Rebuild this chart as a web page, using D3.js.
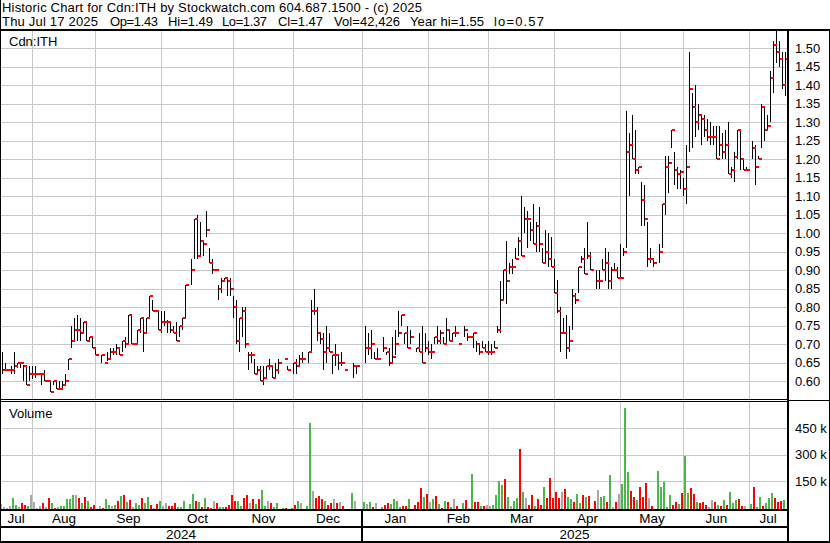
<!DOCTYPE html>
<html>
<head>
<meta charset="utf-8">
<script src="https://cdn.jsdelivr.net/npm/d3@7"></script>
<style>
  body { margin: 0; background: #fff; }
  svg text { font-family: "Liberation Sans", Arial, sans-serif; fill: #000; }
</style>
</head>
<body>
<svg id="chart" width="830" height="543"></svg>
<script>
// daily bars, one slot per weekday from Jul 17 2024 to Jul 17 2025 (null = no trade)
const high = [
  .68,.65,.63,.64,.68,.65,.65,.645,.64,.64, .64,.64,.62,.62,.63,.60,.60,.60,.60,.60,
  .60,.62,.66,.75,.77,.78,.77,.76,.76,.72, .72,.69,null,.67,.65,.68,.69,.69,.70,.69,
  .71,.72,.78,.78,.70,.74,.77,.77,.77,.83, .82,.79,.79,.79,.79,.765,.76,.75,.76,.75,
  .77,.86,null,.93,1.04,1.05,1.03,.98,1.06,.96, .93,.90,.86,.88,.88,.88,.88,.83,.82,.77,
  .80,.80,.68,.68,.66,.64,.64,.64,.64,.66, .64,.65,.66,null,.66,.64,null,.65,.66,.67,
  .68,null,.68,.82,.85,.80,.73,.73,.75,.73, .67,.70,.67,.68,.63,null,null,.65,.64,null,
  null,.75,.73,.74,.68,.69,null,.72,.68,.69, .72,.74,.79,.78,.73,.75,.74,null,.69,.73,
  .75,.73,.71,.70,.72,.75,.74,.72,.77,.74, .73,.75,.70,null,.75,.73,.72,.73,.71,.70,
  .71,.70,.71,.70,.71,.75,.87,.90,.98,.92, .93,.96,.99,1.10,1.07,1.06,1.03,1.08,1.03,1.07,
  .96,1.01,1.00,.99,.93,.874,.80,.77,.78,.75, .85,.84,.91,.94,.96,1.03,.95,null,.90,.90,
  .93,.96,.95,.91,.92,.91,.97,.96,1.33,1.27, 1.32,1.28,1.18,1.14,1.13,1.03,.96,.93,null,.97,
  1.08,1.21,1.21,1.28,1.22,1.18,1.17,1.15,1.24,1.49, 1.38,1.40,1.35,1.32,1.32,1.31,1.30,1.29,1.29,1.29,
  1.27,1.28,1.30,1.18,1.22,1.28,1.28,1.20,1.18,null, 1.25,1.24,1.21,1.35,1.34,1.32,1.44,1.52,1.55,1.52,
  1.49,1.49
];
const low = [
  .62,.63,.63,.62,.62,.635,.635,.60,.59,.60, .605,.61,.62,.59,.60,.60,.57,.59,.58,.58,
  .58,.59,.63,.69,.71,.71,.71,.73,.71,.71, .69,.67,null,.65,.65,.655,.66,.67,.67,.67,
  .68,.69,.70,.70,.70,.70,.73,.68,.73,.77, .79,.79,.74,.73,.75,.73,.73,.73,.71,.72,
  .74,.77,null,.86,.93,.93,.94,.94,.99,.92, .89,.90,.82,.84,.87,.83,.83,.77,.70,.68,
  .72,.69,.63,.65,.62,.62,.60,.59,.61,.63, .61,.61,.62,null,.66,.63,null,.62,.62,.64,
  .65,null,.65,.68,.78,.71,.70,.63,.65,.68, .62,.64,.63,.64,.63,null,null,.61,.62,null,
  null,.65,.67,.66,.66,.66,null,.68,.67,.64, .65,.67,.72,.75,.70,.69,.70,null,.68,.68,
  .65,.68,.67,.66,.70,.70,.70,.70,.70,.71, .71,.72,.70,null,.72,.71,.72,.69,.68,.67,
  .69,.68,.67,.67,.69,.73,.73,.82,.81,.89, .89,.93,.94,.94,1.00,.96,.98,.97,.95,.95,
  .92,.92,.91,.91,.84,.784,.68,.73,.66,.68, .74,.81,.84,.92,.89,.93,.90,null,.85,.85,
  .90,.87,.85,.85,.90,.88,.88,.94,.96,1.10, 1.20,1.16,1.16,1.02,1.02,.91,.92,.91,null,.92,
  .96,1.05,1.11,1.23,1.13,1.12,1.12,1.10,1.08,1.22, 1.23,1.26,1.28,1.24,1.26,1.25,1.24,1.24,1.20,1.21,
  1.20,1.20,1.16,1.15,1.14,1.20,1.17,1.17,1.17,null, 1.20,1.13,1.20,1.23,1.25,1.28,1.30,1.38,1.46,1.45,
  1.39,1.37
];
const close = [
  .63,.63,.63,.63,.64,.65,.65,.64,.59,.62, .62,.62,.62,.62,.60,.60,.57,.60,.58,.58,
  .59,.60,.66,.71,.74,.74,.73,.76,.71,.72, .69,.67,null,.67,.65,.66,.68,.68,.69,.67,
  .71,.70,.78,.70,.70,.74,.77,.73,.77,.83, .79,.79,.74,.76,.76,.76,.74,.73,.71,.75,
  .77,.86,null,.90,1.04,.94,.98,.97,1.01,.92, .90,.90,.85,.87,.88,.87,.85,.80,.71,.77,
  .79,.70,.67,.67,.62,.63,.60,.61,.64,.64, .61,.63,.65,null,.66,.63,null,.65,.64,.66,
  .66,null,.68,.79,.79,.73,.715,.68,.69,.68, .67,.67,.65,.65,.63,null,null,.64,.64,null,
  null,.69,.69,.70,.66,.66,null,.69,.68,.65, .665,.70,.73,.78,.73,.69,.72,null,.69,.68,
  .65,.69,.68,.68,.72,.71,.73,.70,.74,.71, .73,.73,.70,null,.74,.72,.72,.73,.70,.68,
  .69,.68,.68,.68,.69,.74,.82,.90,.87,.91, .91,.93,.98,.94,1.04,1.04,1.01,.97,1.02,.97,
  .92,.95,.93,.91,.84,.79,.73,.73,.69,.71, .83,.82,.91,.93,.89,.94,.90,null,.87,.87,
  .90,.92,.87,.90,.90,.88,.88,.95,1.22,1.24, 1.20,1.17,1.18,1.09,1.04,.93,.93,.92,null,.95,
  1.08,1.18,1.19,1.28,1.17,1.16,1.165,1.12,1.18,1.39, 1.34,1.30,1.32,1.31,1.28,1.26,1.26,1.26,1.20,1.24,
  1.22,1.24,1.16,1.17,1.205,1.28,1.20,1.17,1.17,null, 1.23,1.18,1.20,1.34,1.28,1.29,1.42,1.51,1.49,1.47,
  1.40,1.47
];
// volume in thousands of shares
const volume = [
  22,4,2,11,58,19,4,30,19,11, 73,36,2,11,30,4,58,30,2,7,
  11,11,49,50,73,73,58,30,62,39, 7,19,0,11,2,50,19,11,19,39,
  67,73,36,45,4,26,19,58,26,62, 15,2,22,37,11,30,11,11,26,4,
  7,39,0,22,77,39,36,4,58,7, 2,39,30,4,4,4,19,73,39,39,
  11,54,73,30,50,22,50,101,11,39, 26,4,30,0,2,2,0,2,19,39,
  30,0,11,479,95,58,69,49,39,15, 30,49,30,34,11,0,0,82,39,0,
  0,34,22,34,4,26,0,4,15,26, 22,50,39,7,11,11,50,0,15,34,
  110,64,79,34,50,67,22,2,39,34, 7,50,11,0,26,45,2,191,34,34,
  11,11,15,11,19,73,151,129,163,62, 11,39,54,331,90,56,17,73,11,50,
  17,116,56,168,56,90,56,90,105,62, 52,36,77,26,71,64,67,0,39,101,
  64,67,36,185,4,34,77,135,565,204, 97,62,45,120,64,140,56,11,0,209,
  120,148,7,73,19,36,22,86,292,86, 112,79,36,26,36,17,4,45,36,17,
  11,45,17,92,26,45,49,11,11,0, 22,116,4,64,11,26,56,86,56,36,
  41,42.4
];

const months = ["Jul","Aug","Sep","Oct","Nov","Dec","Jan","Feb","Mar","Apr","May","Jun","Jul"];
const monthStart = [0,10,31,53,77,97,120,142,162,184,206,227,249];
const years = ["2024","2025"];
const yearStart = [0,120];
const priceTicks = [0.60,0.65,0.70,0.75,0.80,0.85,0.90,0.95,1.00,1.05,1.10,1.15,1.20,1.25,1.30,1.35,1.40,1.45,1.50];
const volTicks = [150000,300000,450000];

const titleLine1 = "Historic Chart for Cdn:ITH by Stockwatch.com 604.687.1500 - (c) 2025";
const titleFields = ["Thu Jul 17 2025","Op=1.43","Hi=1.49","Lo=1.37","Cl=1.47","Vol=42,426","Year hi=1.55","lo=0.57"];
const fieldX = [2,110,168,222,278,334,410,494];
const fieldW = [96,48,45,45,45,66,74,50];

const W = 830, H = 543;
const plotLeft = 1, plotRight = 787;
const priceTop = 31, priceBottom = 399;
const volTop = 402, volBottom = 509;

const svg = d3.select("#chart");
svg.append("rect").attr("width", W).attr("height", H).attr("fill", "#fff");

const n = close.length;
const x = d3.scaleLinear().domain([0, n - 1]).range([2, 2 + 3 * (n - 1)]);
const y = d3.scaleLinear().domain([0.60, 1.50]).range([381.3, 48.3]);
const yv = d3.scaleLinear().domain([0, 450000]).range([508, 428]);

const gridX = i => Math.round(x(i)) + 0.5;

// grid
const grid = svg.append("g").attr("stroke", "#c8c8c8").attr("stroke-width", 1).attr("shape-rendering", "crispEdges");
grid.selectAll("line.hp").data(priceTicks).join("line")
  .attr("x1", plotLeft).attr("x2", plotRight)
  .attr("y1", d => Math.round(y(d)) + 0.5).attr("y2", d => Math.round(y(d)) + 0.5);
grid.selectAll("line.hv").data(volTicks).join("line")
  .attr("x1", plotLeft).attr("x2", plotRight)
  .attr("y1", d => Math.round(yv(d)) + 0.5).attr("y2", d => Math.round(yv(d)) + 0.5);
monthStart.slice(1).forEach(m => {
  grid.append("line").attr("x1", gridX(m)).attr("x2", gridX(m)).attr("y1", priceTop).attr("y2", priceBottom);
  grid.append("line").attr("x1", gridX(m)).attr("x2", gridX(m)).attr("y1", volTop).attr("y2", volBottom);
});

// price bars
const idx = d3.range(n).filter(i => close[i] !== null);
svg.append("g").selectAll("rect").data(idx.filter(i => high[i] > low[i])).join("rect")
  .attr("x", i => x(i)).attr("width", 1)
  .attr("y", i => Math.round(y(high[i])))
  .attr("height", i => Math.max(1, Math.round(y(low[i])) - Math.round(y(high[i]))))
  .attr("fill", "#000").attr("shape-rendering", "crispEdges");
svg.append("g").selectAll("rect").data(idx).join("rect")
  .attr("x", i => x(i) + 1).attr("width", 3)
  .attr("y", i => Math.round(y(close[i])) - 1).attr("height", 2)
  .attr("fill", "#ff0000").attr("shape-rendering", "crispEdges");

// volume bars
const volColor = i => {
  if (i === 0 || close[i] === null) return "#a8a8a8";
  let p = i - 1;
  while (p > 0 && close[p] === null) p--;
  if (close[i] > close[p]) return "#4cb84c";
  if (close[i] < close[p]) return "#ff0000";
  return "#a8a8a8";
};
svg.append("g").selectAll("rect").data(idx.filter(i => volume[i] > 0)).join("rect")
  .attr("x", i => x(i) - 2).attr("width", 2)
  .attr("y", i => Math.min(Math.round(yv(volume[i] * 1000)), volBottom - 1))
  .attr("height", i => volBottom - Math.min(Math.round(yv(volume[i] * 1000)), volBottom - 1))
  .attr("fill", volColor).attr("shape-rendering", "crispEdges");

// right axes
const pAxis = svg.append("g").attr("transform", `translate(${plotRight + 2},0)`)
  .call(d3.axisRight(y).tickValues(priceTicks).tickFormat(d3.format(".2f")).tickSize(0).tickPadding(6));
const vAxis = svg.append("g").attr("transform", `translate(${plotRight + 2},0)`)
  .call(d3.axisRight(yv).tickValues(volTicks).tickFormat(d => (d / 1000) + " k").tickSize(0).tickPadding(6));
[pAxis, vAxis].forEach(g => {
  g.select(".domain").remove();
  g.attr("font-family", null).attr("font-size", null);
  g.selectAll("text").attr("font-size", 13).attr("fill", "#000");
});

// frame lines
const blk = svg.append("g").attr("fill", "#000").attr("shape-rendering", "crispEdges");
blk.append("rect").attr("x", 0).attr("y", 29).attr("width", W).attr("height", 2);
blk.append("rect").attr("x", 0).attr("y", 0).attr("width", 1).attr("height", H);
blk.append("rect").attr("x", W - 1).attr("y", 29).attr("width", 1).attr("height", H - 29);
blk.append("rect").attr("x", 0).attr("y", H - 2).attr("width", W).attr("height", 2);
blk.append("rect").attr("x", plotRight).attr("y", 29).attr("width", 2).attr("height", H - 29);
blk.append("rect").attr("x", 0).attr("y", 399).attr("width", plotRight).attr("height", 1);
blk.append("rect").attr("x", 0).attr("y", 401).attr("width", plotRight).attr("height", 1);
blk.append("rect").attr("x", plotRight).attr("y", 400).attr("width", W - plotRight).attr("height", 1);
blk.append("rect").attr("x", 0).attr("y", volBottom).attr("width", plotRight).attr("height", 2);
blk.append("rect").attr("x", 0).attr("y", 526).attr("width", plotRight).attr("height", 2);
yearStart.slice(1).forEach(m => {
  blk.append("rect").attr("x", Math.round(x(m)) - 1).attr("y", volBottom).attr("width", 2).attr("height", H - volBottom);
});

// time labels
const bounds = monthStart.map(m => m === 0 ? 0 : gridX(m)).concat([plotRight]);
svg.append("g").selectAll("text").data(months).join("text")
  .attr("x", (d, i) => (bounds[i] + bounds[i + 1]) / 2)
  .attr("y", 523).attr("text-anchor", "middle").attr("font-size", 13.5)
  .text(d => d);
const ybounds = yearStart.map(m => m === 0 ? 0 : x(m)).concat([plotRight]);
svg.append("g").selectAll("text").data(years).join("text")
  .attr("x", (d, i) => (ybounds[i] + ybounds[i + 1]) / 2)
  .attr("y", 539).attr("text-anchor", "middle").attr("font-size", 13.5)
  .text(d => d);

// titles
svg.append("text").attr("x", 2).attr("y", 12).attr("font-size", 13)
  .attr("textLength", 420).attr("lengthAdjust", "spacing").text(titleLine1);
svg.append("g").selectAll("text").data(titleFields).join("text")
  .attr("x", (d, i) => fieldX[i]).attr("y", 26).attr("font-size", 13)
  .attr("textLength", (d, i) => fieldW[i]).attr("lengthAdjust", "spacing")
  .text(d => d);
svg.append("text").attr("x", 9).attr("y", 46).attr("font-size", 13).text("Cdn:ITH");
svg.append("text").attr("x", 9).attr("y", 418).attr("font-size", 13).text("Volume");
</script>
</body>
</html>
